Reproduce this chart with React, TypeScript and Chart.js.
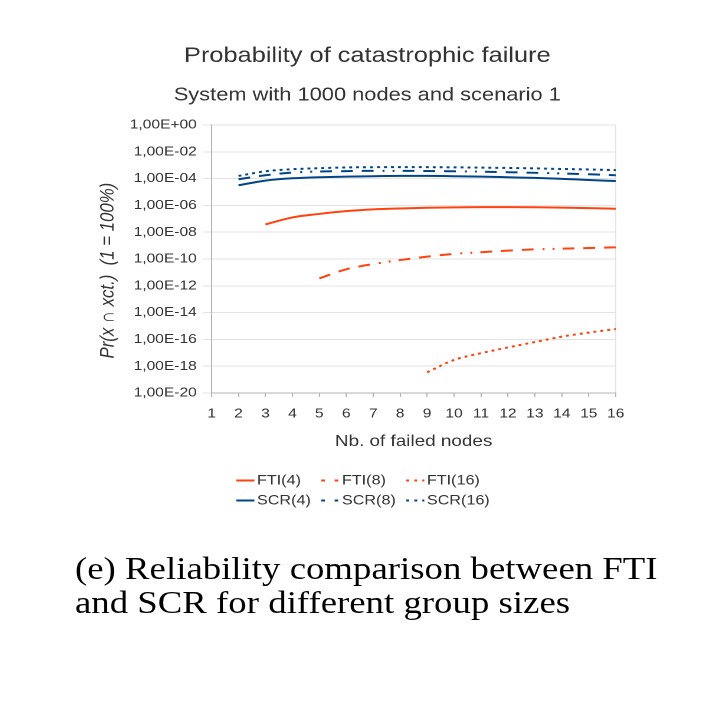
import React, { useEffect, useRef } from "react";
import { Chart, registerables, Plugin } from "chart.js";

Chart.register(...registerables);

// x categories: number of failed nodes
const categories = ["1", "2", "3", "4", "5", "6", "7", "8", "9", "10", "11", "12", "13", "14", "15", "16"];

// Pr(x ∩ xct.) (log scale)
const fti4 = [null, null, 3.8e-8, 1.26e-7, 2.3e-7, 3.7e-7, 5.0e-7, 5.9e-7, 6.6e-7, 7.1e-7, 7.4e-7, 7.4e-7, 7.2e-7, 6.8e-7, 6.3e-7, 5.6e-7];
const fti8 = [null, null, null, null, 3.6e-12, 1.7e-11, 4.2e-11, 8.3e-11, 1.5e-10, 2.4e-10, 3.2e-10, 4.2e-10, 5.2e-10, 5.9e-10, 6.6e-10, 7.4e-10];
const fti16 = [null, null, null, null, null, null, null, null, 3.5e-19, 2.9e-18, 9.3e-18, 2.5e-17, 6.3e-17, 1.6e-16, 3.2e-16, 5.9e-16];
const scr4 = [null, 3.2e-5, 7.1e-5, 1.05e-4, 1.26e-4, 1.41e-4, 1.51e-4, 1.58e-4, 1.58e-4, 1.51e-4, 1.41e-4, 1.26e-4, 1.12e-4, 9.5e-5, 7.9e-5, 6.6e-5];
const scr8 = [null, 8.9e-5, 1.78e-4, 2.8e-4, 3.4e-4, 3.6e-4, 3.8e-4, 3.8e-4, 3.7e-4, 3.5e-4, 3.3e-4, 3.0e-4, 2.7e-4, 2.4e-4, 2.1e-4, 1.78e-4];
const scr16 = [null, 1.58e-4, 3.5e-4, 5.0e-4, 6.0e-4, 6.8e-4, 7.1e-4, 7.2e-4, 7.1e-4, 6.9e-4, 6.6e-4, 6.2e-4, 5.8e-4, 5.2e-4, 4.8e-4, 4.3e-4];

const seriesNames = ["FTI(4)", "FTI(8)", "FTI(16)", "SCR(4)", "SCR(8)", "SCR(16)"];
const seriesValues = [fti4, fti8, fti16, scr4, scr8, scr16];

// y axis ticks, every second decade
const yTickExponents = [-20, -18, -16, -14, -12, -10, -8, -6, -4, -2, 0];
const yTickLabels = ["1,00E-20", "1,00E-18", "1,00E-16", "1,00E-14", "1,00E-12", "1,00E-10", "1,00E-08", "1,00E-06", "1,00E-04", "1,00E-02", "1,00E+00"];

const ORANGE = "#ff420e";
const BLUE = "#004586";
const TEXT = "#333333";
const GRID = "#e3e3e3";
const AXIS = "#b3b3b3";
const SANS = "'Liberation Sans', Arial, sans-serif";

const DASH_DOT = [10, 7.6, 10, 7.6, 10, 7.6, 1.7, 6.8, 1.7, 6.8];
const DOTTED = [2.5, 3.4];
const seriesColors = [ORANGE, ORANGE, ORANGE, BLUE, BLUE, BLUE];
const seriesDash = [[], DASH_DOT, DOTTED, [], DASH_DOT, DOTTED];
const legendDash = [[], [3, 8.3], [2.5, 4.3], [], [3, 8.3], [2.5, 4.3]];

// legend laid out as a 3 x 2 table under the x axis title
const gridLegend: Plugin<"line"> = {
  id: "gridLegend",
  afterDraw(chart) {
    const { ctx } = chart;
    const xs = chart.scales.x;
    const cx = chart.width / 2;
    ctx.save();
    ctx.font = `13.7px ${SANS}`;
    ctx.textBaseline = "middle";
    ctx.textAlign = "left";
    chart.data.datasets.forEach((ds, i) => {
      const col = i % 3;
      const row = Math.floor(i / 3);
      const x = cx - 111 + col * 72;
      const y = xs.bottom + 25.5 + row * 20;
      ctx.strokeStyle = ds.borderColor as string;
      ctx.lineWidth = 2;
      ctx.setLineDash(legendDash[i]);
      ctx.beginPath();
      ctx.moveTo(x, y);
      ctx.lineTo(x + 15.3, y);
      ctx.stroke();
      ctx.setLineDash([]);
      ctx.fillStyle = TEXT;
      ctx.fillText(ds.label as string, x + 17.5, y);
    });
    ctx.restore();
  },
};

const FailureChart = () => {
  const canvasRef = useRef<HTMLCanvasElement | null>(null);
  const chartRef = useRef<Chart | null>(null);

  useEffect(() => {
    if (chartRef.current) {
      chartRef.current.destroy();
    }
    const ctx = canvasRef.current?.getContext("2d");
    if (!ctx) return;

    chartRef.current = new Chart(ctx, {
      type: "line",
      data: {
        labels: categories,
        datasets: seriesNames.map((name, i) => ({
          label: name,
          data: seriesValues[i],
          borderColor: seriesColors[i],
          backgroundColor: seriesColors[i],
          borderDash: seriesDash[i],
          borderWidth: 2,
          pointRadius: 0,
          fill: false,
          tension: 0.4,
          cubicInterpolationMode: "monotone",
        })),
      },
      options: {
        animation: false,
        responsive: true,
        maintainAspectRatio: false,
        devicePixelRatio: 2,
        layout: { padding: { left: 1, right: 1, top: 0, bottom: 65 } },
        plugins: {
          legend: { display: false },
          tooltip: { enabled: false },
          title: {
            display: true,
            text: "Probability of catastrophic failure",
            color: TEXT,
            font: { family: SANS, size: 21.5, weight: "normal" },
            padding: { top: 13, bottom: 8 },
          },
          subtitle: {
            display: true,
            text: "System with 1000 nodes and scenario 1",
            color: TEXT,
            font: { family: SANS, size: 18.5, weight: "normal" },
            padding: { top: 7.7, bottom: 18.3 },
          },
        },
        scales: {
          x: {
            type: "category",
            offset: false,
            // keep the plot's right edge clear of the titles' centre line
            afterFit: (scale) => {
              scale.paddingRight = 24;
            },
            grid: {
              color: (c) => (c.index === categories.length - 1 ? GRID : "transparent"),
              tickColor: AXIS,
              tickLength: 4,
            },
            border: { color: AXIS },
            ticks: {
              color: TEXT,
              font: { family: SANS, size: 13.2 },
              padding: 9,
              autoSkip: false,
              maxRotation: 0,
            },
            title: {
              display: true,
              text: "Nb. of failed nodes",
              color: TEXT,
              font: { family: SANS, size: 16 },
              padding: { top: 1, bottom: 4 },
            },
          },
          y: {
            type: "logarithmic",
            min: 1e-20,
            max: 1,
            afterBuildTicks: (scale) => {
              scale.ticks = yTickExponents.map((e) => ({ value: Number(`1e${e}`) }));
            },
            grid: { color: GRID, tickColor: GRID, tickLength: 7.5 },
            border: { color: AXIS },
            ticks: {
              color: TEXT,
              font: { family: SANS, size: 13.2 },
              padding: 5,
              callback: (v) => yTickLabels[yTickExponents.indexOf(Math.round(Math.log10(Number(v))))],
            },
            title: {
              display: true,
              text: "Pr(x ∩ xct.)  (1 = 100%)     ",
              color: TEXT,
              font: { family: SANS, size: 16.8, style: "italic" },
              padding: { top: 4, bottom: 3 },
            },
          },
        },
      },
      plugins: [gridLegend],
    });

    return () => {
      if (chartRef.current) {
        chartRef.current.destroy();
        chartRef.current = null;
      }
    };
  }, []);

  return <canvas ref={canvasRef} />;
};

export default function App() {
  return (
    <div
      style={{
        position: "relative",
        width: 597,
        height: 680,
        transform: "scaleX(1.18)",
        transformOrigin: "0 0",
      }}
    >
      <div style={{ position: "absolute", left: 70, top: 22, width: 469, height: 490 }}>
        <FailureChart />
      </div>
      <div
        style={{
          position: "absolute",
          left: 56.8,
          top: 543.5,
          fontFamily: "'Liberation Serif', 'Times New Roman', serif",
          fontSize: 31.2,
          lineHeight: "34px",
          color: "#000",
          whiteSpace: "nowrap",
        }}
      >
        (e) Reliability comparison between FTI
        <br />
        and SCR for different group sizes
      </div>
    </div>
  );
}
